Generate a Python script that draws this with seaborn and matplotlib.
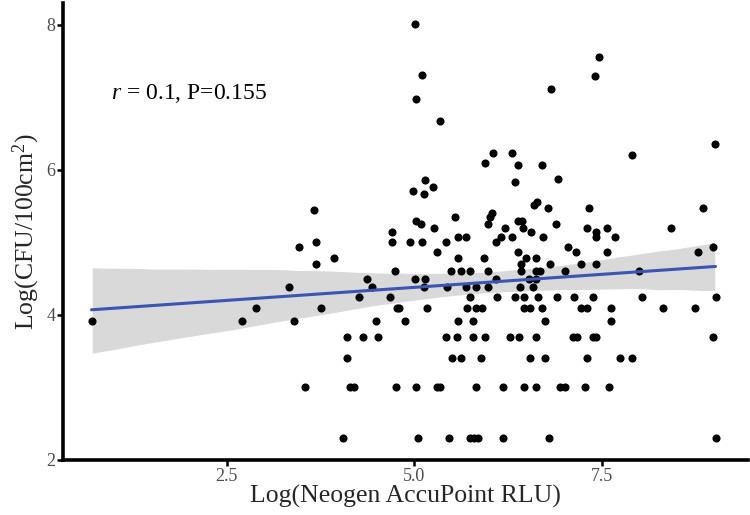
import matplotlib
matplotlib.use("Agg")
import matplotlib.pyplot as plt
import seaborn as sns
import pandas as pd

# Log(Neogen AccuPoint RLU) vs Log(CFU/100cm2)
x_rlu = [
    4.06, 5.06, 5.46, 5.74, 5.80, 5.85, 6.18, 6.80, 9.02,
    3.55, 4.14, 4.20, 4.76, 5.03, 5.31, 5.34, 5.82, 6.19, 6.46, 6.62, 6.94, 7.01, 7.28, 7.60,
    4.11, 5.51, 5.62, 5.89, 6.54, 6.74, 7.31, 7.74, 7.91,
    4.11, 4.32, 4.52, 5.42, 5.57, 5.79, 5.95, 6.28, 6.40, 6.62, 7.12, 7.17, 7.38, 7.42, 8.98,
    0.70, 2.71, 3.40, 4.49, 4.88, 5.59, 5.78, 6.75, 7.63,
    2.89, 3.76, 4.77, 4.80, 5.17, 5.70, 5.82, 5.91, 6.46, 6.54, 6.70, 7.22, 7.31, 7.63, 8.32, 8.74,
    4.26, 4.68, 5.75, 6.10, 6.34, 6.46, 6.65, 6.90, 7.13, 7.39, 8.04, 9.02,
    3.33, 4.44, 5.13, 5.44, 5.69, 5.82, 5.98, 6.41, 6.58,
    4.37, 5.02, 5.14, 6.09, 6.53, 6.62,
    4.75, 5.49, 5.62, 5.74, 5.99, 6.43, 6.63, 6.68, 7.01, 8.00,
    3.69, 6.42, 6.81, 7.22, 7.42,
    3.93, 5.59, 5.93, 6.49, 6.63,
    5.31, 6.39, 7.16, 7.57, 8.78,
    3.46, 7.05, 8.99,
    3.69, 4.70, 4.94, 5.10, 5.43, 6.09,
    5.59, 5.69, 6.16, 6.30, 6.72, 7.43, 7.68,
    4.70, 6.56, 7.42,
    5.26, 6.21, 6.45, 7.30, 7.57, 8.43,
    5.09, 5.98, 6.89,
    5.03, 6.38, 6.44,
    5.54, 6.02,
    6.04, 3.66, 6.79, 7.33, 8.85, 6.60, 6.64,
    5.13, 4.99, 5.25, 6.34, 5.15, 6.92,
    6.38, 6.70, 5.95, 7.90, 6.05, 6.31, 9.01,
    5.34, 5.03, 6.82, 7.41, 5.10, 7.46, 5.02,
]
y_cfu = [
    2.30, 2.30, 2.30, 2.30, 2.30, 2.30, 2.30, 2.30, 2.30,
    3.00, 3.00, 3.00, 3.00, 3.00, 3.00, 3.00, 3.00, 3.00, 3.00, 3.00, 3.00, 3.00, 3.00, 3.00,
    3.40, 3.40, 3.40, 3.40, 3.40, 3.40, 3.40, 3.40, 3.40,
    3.69, 3.69, 3.69, 3.69, 3.69, 3.69, 3.69, 3.69, 3.69, 3.69, 3.69, 3.69, 3.69, 3.69, 3.69,
    3.91, 3.91, 3.91, 3.91, 3.91, 3.91, 3.91, 3.91, 3.91,
    4.09, 4.09, 4.09, 4.09, 4.09, 4.09, 4.09, 4.09, 4.09, 4.09, 4.09, 4.09, 4.09, 4.09, 4.09, 4.09,
    4.25, 4.25, 4.25, 4.25, 4.25, 4.25, 4.25, 4.25, 4.25, 4.25, 4.25, 4.25,
    4.38, 4.38, 4.38, 4.38, 4.38, 4.38, 4.38, 4.38, 4.38,
    4.50, 4.50, 4.50, 4.50, 4.50, 4.50,
    4.61, 4.61, 4.61, 4.61, 4.61, 4.61, 4.61, 4.61, 4.61, 4.61,
    4.70, 4.70, 4.70, 4.70, 4.70,
    4.79, 4.79, 4.79, 4.79, 4.79,
    4.87, 4.87, 4.87, 4.87, 4.87,
    4.94, 4.94, 4.94,
    5.01, 5.01, 5.01, 5.01, 5.01, 5.01,
    5.08, 5.08, 5.08, 5.08, 5.08, 5.08, 5.08,
    5.14, 5.14, 5.14,
    5.20, 5.20, 5.20, 5.20, 5.20, 5.20,
    5.25, 5.25, 5.25,
    5.30, 5.30, 5.30,
    5.35, 5.35,
    5.40, 5.44, 5.48, 5.48, 5.48, 5.52, 5.56,
    5.67, 5.71, 5.77, 5.83, 5.86, 5.88,
    6.07, 6.07, 6.09, 6.20, 6.23, 6.23, 6.36,
    6.67, 6.98, 7.12, 7.30, 7.31, 7.55, 8.01,
]

df = pd.DataFrame({"rlu": x_rlu, "cfu": y_cfu})

sns.set_theme(style="white")
plt.rcParams["font.family"] = ["Liberation Serif", "DejaVu Serif"]
plt.rcParams["mathtext.fontset"] = "custom"
plt.rcParams["mathtext.rm"] = "Liberation Serif"
plt.rcParams["mathtext.it"] = "Liberation Serif:italic"

fig = plt.figure(figsize=(7.5, 5.15), dpi=100)
ax = fig.add_axes([0.084, 0.107, 0.913, 0.887])

sns.regplot(
    data=df, x="rlu", y="cfu", ax=ax, ci=95,
    scatter_kws={"s": 34, "color": "black", "alpha": 1, "linewidths": 0},
    line_kws={"color": "#3B55B2", "lw": 2.2},
)
# lighter band like ggplot's geom_smooth
for coll in ax.collections[1:]:
    coll.set_facecolor("#D9D9D9")
    coll.set_alpha(1)
    coll.set_zorder(0)

ax.set_xlim(0.32, 9.45)
ax.set_ylim(2.01, 8.30)
ax.set_xticks([2.5, 5.0, 7.5])
ax.set_xticklabels(["2.5", "5.0", "7.5"])
ax.set_yticks([2, 4, 6, 8])

for side in ["top", "right"]:
    ax.spines[side].set_visible(False)
for side in ["left", "bottom"]:
    ax.spines[side].set_linewidth(2.6)
    ax.spines[side].set_color("black")

ax.tick_params(axis="both", direction="out", length=4, width=1.8, color="black",
               labelsize=13, labelcolor="#4D4D4D", pad=1.5, bottom=True, left=True)

ax.set_xlabel("Log(Neogen AccuPoint RLU)", fontsize=18.5, labelpad=0)
ax.set_ylabel("Log(CFU/100cm$^2$)", fontsize=18.5, labelpad=3)

ax.text(0.07, 0.79, r"$\it{r}$ = 0.1, P=0.155", transform=ax.transAxes,
        fontsize=17, color="black")

fig.savefig("out.png", dpi=100)
